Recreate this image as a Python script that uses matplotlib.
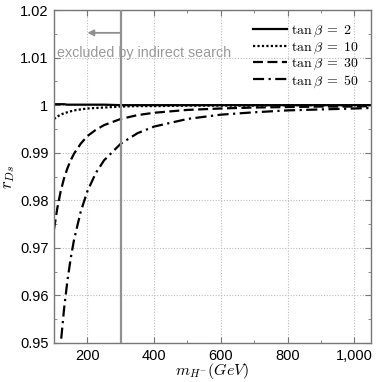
import matplotlib
matplotlib.use("Agg")
import matplotlib.pyplot as plt
from matplotlib.ticker import FixedLocator, MultipleLocator

plt.rcParams['mathtext.fontset'] = 'cm'
plt.rcParams['font.family'] = ['Liberation Sans', 'DejaVu Sans']

m_H = [100, 110, 120, 130, 140, 150, 160, 180, 200, 225, 250, 300, 350, 400,
       500, 600, 700, 800, 900, 1000, 1050]
r_tb2 = [1.0002, 1.0002, 1.0002, 1.0002, 1.0001, 1.0001, 1.0001, 1.0001, 1.0001,
         1.0001, 1.0001, 1.0000, 1.0000, 1.0000, 1.0000, 1.0000, 1.0000, 1.0000,
         1.0000, 1.0000, 1.0000]
r_tb10 = [0.9971, 0.9976, 0.9980, 0.9983, 0.9985, 0.9987, 0.9989, 0.9991, 0.9993,
          0.9994, 0.9995, 0.9997, 0.9998, 0.9998, 0.9999, 0.9999, 0.9999, 1.0000,
          1.0000, 1.0000, 1.0000]
r_tb30 = [0.9739, 0.9784, 0.9819, 0.9846, 0.9867, 0.9884, 0.9898, 0.9919, 0.9935,
          0.9948, 0.9958, 0.9971, 0.9979, 0.9984, 0.9990, 0.9993, 0.9995, 0.9996,
          0.9997, 0.9997, 0.9998]
r_tb50 = [0.9275, 0.9401, 0.9497, 0.9571, 0.9630, 0.9678, 0.9717, 0.9776, 0.9819,
          0.9857, 0.9884, 0.9919, 0.9941, 0.9955, 0.9971, 0.9980, 0.9985, 0.9989,
          0.9991, 0.9993, 0.9994]

series = [
    (r_tb2, r'$\tan\beta\;=\;2$', '-'),
    (r_tb10, r'$\tan\beta\;=\;10$', (0, (1, 1))),
    (r_tb30, r'$\tan\beta\;=\;30$', (0, (4.5, 2))),
    (r_tb50, r'$\tan\beta\;=\;50$', (0, (5, 2, 1, 2))),
]

x_ticks = [200, 400, 600, 800, 1000]
x_tick_labels = ['200', '400', '600', '800', '1,000']
y_ticks = [0.95, 0.96, 0.97, 0.98, 0.99, 1.00, 1.01, 1.02]
y_tick_labels = ['0.95', '0.96', '0.97', '0.98', '0.99', '1', '1.01', '1.02']
exclusion_mass = 300
arrow_end = 200

fig = plt.figure(figsize=(3.82, 3.82), dpi=100)
ax = fig.add_axes([0.1414, 0.1021, 0.8298, 0.8717])

for vals, lab, ls in series:
    ax.plot(m_H, vals, color='black', linestyle=ls, linewidth=1.6, label=lab)

gray = '#909090'
ax.axvline(exclusion_mass, color=gray, linewidth=1.6, zorder=3)
ax.annotate('', xy=(arrow_end, 1.0152), xytext=(exclusion_mass, 1.0152),
            arrowprops=dict(arrowstyle='-|>', color=gray, lw=1.3,
                            mutation_scale=9, shrinkA=0, shrinkB=0))
ax.text(108, 1.0109, 'excluded by indirect search', color='#999999', fontsize=10.3,
        va='center', ha='left')

ax.set_xlim(100, 1050)
ax.set_ylim(0.95, 1.02)
ax.xaxis.set_major_locator(FixedLocator(x_ticks))
ax.set_xticklabels(x_tick_labels)
ax.yaxis.set_major_locator(FixedLocator(y_ticks))
ax.set_yticklabels(y_tick_labels)
ax.xaxis.set_minor_locator(MultipleLocator(100))
ax.yaxis.set_minor_locator(MultipleLocator(0.005))

ax.grid(True, which='major', linestyle=(0, (1, 1.5)), color='#bdbdbd', linewidth=0.8)
ax.tick_params(which='both', direction='in', top=True, right=True, color='#777777',
               labelsize=10.5, pad=4)
ax.tick_params(which='major', length=4)
ax.tick_params(which='minor', length=2.5)
for s in ax.spines.values():
    s.set_color('#777777')
    s.set_linewidth(1.0)

ax.set_xlabel(r'$m_{H^{-}}(GeV)$', fontsize=11.5, labelpad=-1)
ax.set_ylabel(r'$r_{Ds}$', fontsize=12, labelpad=2)

leg = ax.legend(loc='upper right', frameon=False, fontsize=10, handlelength=2.4,
                handletextpad=0.3, labelspacing=0.05, borderaxespad=0.5)

fig.savefig('out.png', dpi=100)
